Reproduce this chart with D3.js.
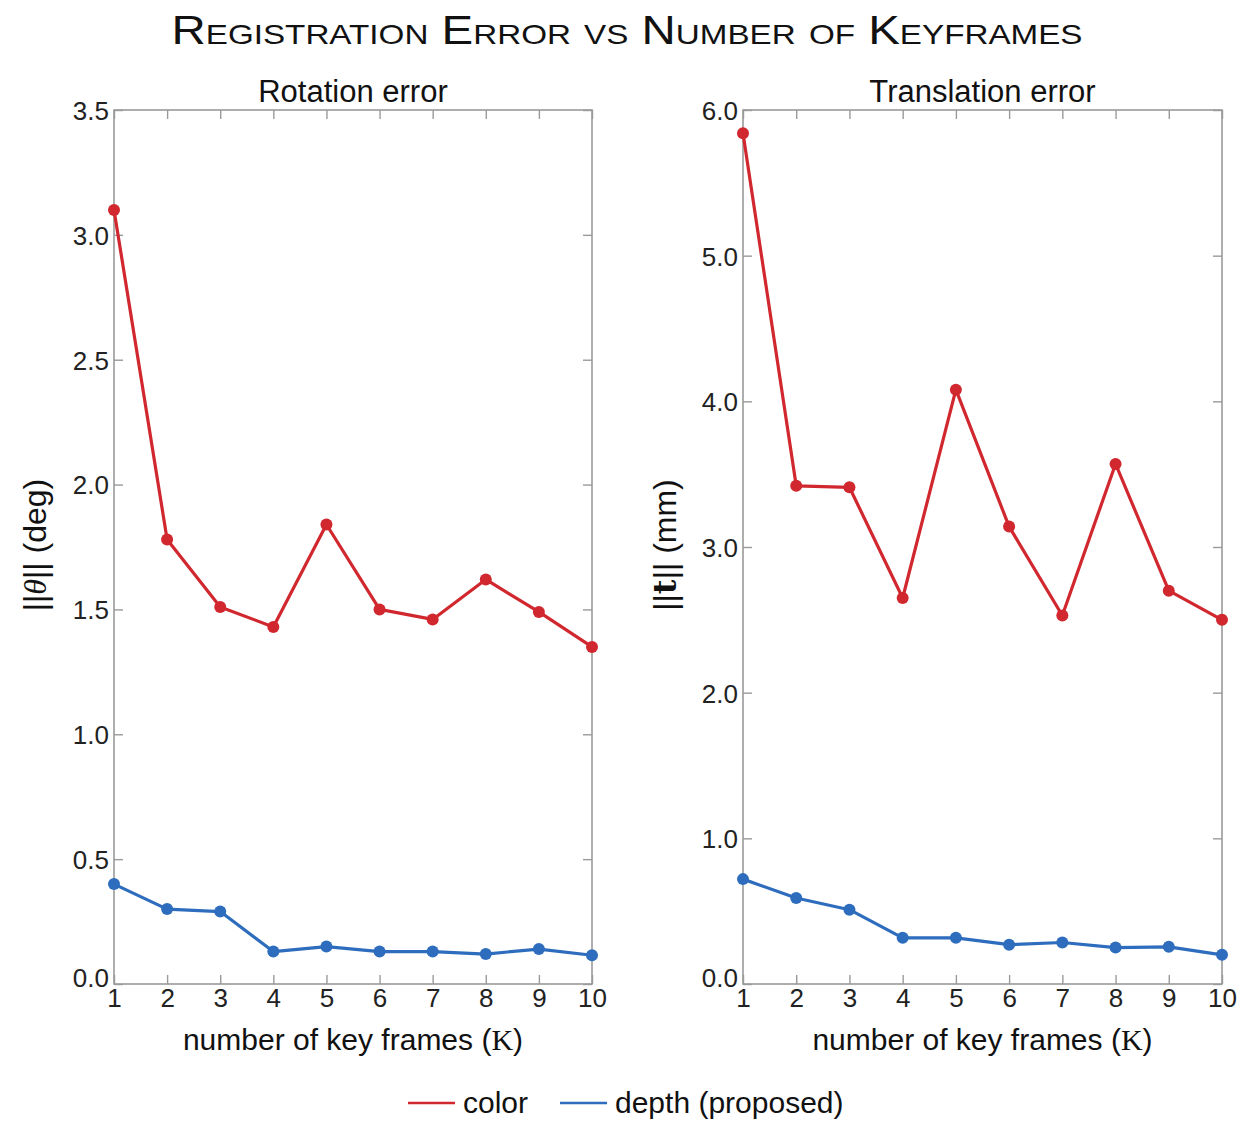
<!DOCTYPE html>
<html><head><meta charset="utf-8">
<script src="https://cdn.jsdelivr.net/npm/d3@7"></script>
<style>
html,body{margin:0;padding:0;background:#fff;}
svg{display:block;font-family:"Liberation Sans",Arial,sans-serif;}
</style></head>
<body>
<svg id="chart" width="1253" height="1121"></svg>
<script>
const keyframes = [1,2,3,4,5,6,7,8,9,10];
const rotColor = [3.10,1.78,1.51,1.43,1.84,1.50,1.46,1.62,1.49,1.35];
const rotDepth = [0.40,0.30,0.29,0.13,0.15,0.13,0.13,0.12,0.14,0.115];
const transColor = [5.84,3.42,3.41,2.65,4.08,3.14,2.53,3.57,2.70,2.50];
const transDepth = [0.72,0.59,0.51,0.317,0.317,0.27,0.285,0.25,0.255,0.20];
const rotTicks = [0,0.5,1.0,1.5,2.0,2.5,3.0,3.5];
const transTicks = [0,1,2,3,4,5,6];
const seriesNames = ["color","depth (proposed)"];
const seriesColors = ["#d1272e","#2e6dbd"];

const svg = d3.select("#chart");

svg.append("text").attr("x",627).attr("y",44).attr("text-anchor","middle")
  .style("font-size","40px").style("font-variant","small-caps").attr("fill","#111")
  .attr("textLength",911).attr("lengthAdjust","spacingAndGlyphs")
  .text("Registration Error vs Number of Keyframes");

function panel(opt){
  const x = d3.scaleLinear().domain([1,10]).range([opt.x0,opt.x1]);
  const y = d3.scaleLinear().domain([0,opt.ymax]).range([984,110]);
  const g = svg.append("g");
  g.append("rect").attr("x",opt.x0).attr("y",110).attr("width",opt.x1-opt.x0).attr("height",874)
    .attr("fill","none").attr("stroke","#9a9a9a").attr("stroke-width",1.6);
  const ax = g.append("g").attr("transform","translate(0,984)")
    .call(d3.axisBottom(x).tickValues(keyframes).tickFormat(d3.format("d")).tickSize(-9).tickPadding(5));
  const axT = g.append("g").attr("transform","translate(0,110)")
    .call(d3.axisTop(x).tickValues(keyframes).tickSize(-9).tickFormat(""));
  const ay = g.append("g").attr("transform",`translate(${opt.x0},0)`)
    .call(d3.axisLeft(y).tickValues(opt.ticks).tickFormat(d3.format(".1f")).tickSize(-9).tickPadding(5));
  const ayR = g.append("g").attr("transform",`translate(${opt.x1},0)`)
    .call(d3.axisRight(y).tickValues(opt.ticks).tickSize(-9).tickFormat(""));
  [ax,axT,ay,ayR].forEach(a=>{
    a.select(".domain").remove();
    a.selectAll(".tick line").attr("stroke","#9a9a9a").attr("stroke-width",1.4);
    a.selectAll("text").attr("fill","#222").style("font-size","26px").style("font-family","'Liberation Sans',Arial,sans-serif");
  });
  ax.selectAll("text").attr("dy","0.71em");
  ay.selectAll("text").attr("dy","0.36em");
  ay.selectAll(".tick").filter(d=>d===0).select("text").attr("dy","0.1em");
  g.append("text").attr("x",(opt.x0+opt.x1)/2).attr("y",102).attr("text-anchor","middle")
    .style("font-size","31px").attr("fill","#111").text(opt.title);
  const xl = g.append("text").attr("x",(opt.x0+opt.x1)/2).attr("y",1050).attr("text-anchor","middle")
    .style("font-size","30px").attr("fill","#111");
  xl.append("tspan").text("number of key frames (");
  xl.append("tspan").style("font-family","'Liberation Serif','DejaVu Serif',serif").text("K");
  xl.append("tspan").text(")");
  const yl = g.append("text").attr("transform",`translate(${opt.ylx},545) rotate(-90)`)
    .attr("text-anchor","middle").style("font-size","32px").attr("fill","#111");
  yl.append("tspan").text("||");
  yl.append("tspan").style("font-family",opt.symFont).style("font-style",opt.symStyle)
    .style("font-weight",opt.symWeight).text(opt.sym);
  yl.append("tspan").text("|| " + opt.unit);
  const line = d3.line().x((d,i)=>x(keyframes[i])).y(d=>y(d));
  opt.series.forEach((s,k)=>{
    g.append("path").datum(s).attr("d",line).attr("fill","none")
      .attr("stroke",seriesColors[k]).attr("stroke-width",3.2).attr("stroke-linejoin","round");
    g.selectAll(null).data(s).enter().append("circle")
      .attr("cx",(d,i)=>x(keyframes[i])).attr("cy",d=>y(d)).attr("r",6)
      .attr("fill",seriesColors[k]);
  });
}

panel({x0:114,x1:592,ymax:3.5,ticks:rotTicks,title:"Rotation error",
  series:[rotColor,rotDepth],ylx:46,sym:"θ",symFont:"'Liberation Serif','DejaVu Serif',serif",
  symStyle:"italic",symWeight:"normal",unit:"(deg)"});
panel({x0:743,x1:1222,ymax:6,ticks:transTicks,title:"Translation error",
  series:[transColor,transDepth],ylx:676,sym:"t",symFont:"'DejaVu Serif','Liberation Serif',serif",
  symStyle:"normal",symWeight:"bold",unit:"(mm)"});

const leg = svg.append("g");
const legX = [408,560];
seriesNames.forEach((n,i)=>{
  leg.append("line").attr("x1",legX[i]).attr("x2",legX[i]+47).attr("y1",1103).attr("y2",1103)
    .attr("stroke",seriesColors[i]).attr("stroke-width",2.5);
  leg.append("text").attr("x",legX[i]+55).attr("y",1113).style("font-size","30px")
    .attr("fill","#111").text(n);
});
</script>
</body></html>
